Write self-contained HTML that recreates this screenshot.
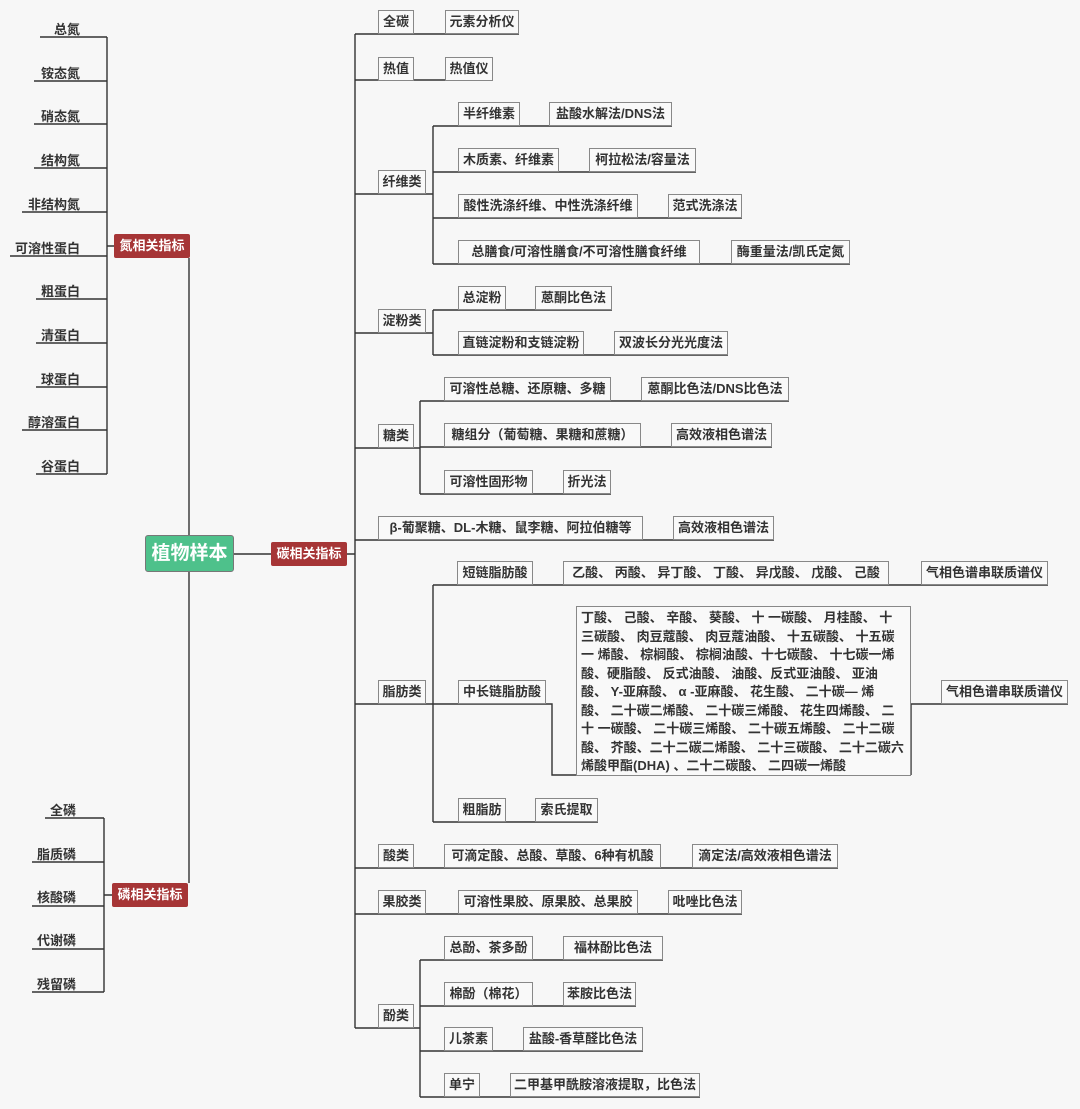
<!DOCTYPE html>
<html><head><meta charset="utf-8">
<style>
body{margin:0;background:#f7f7f7;}
#c{position:relative;width:1080px;height:1109px;overflow:hidden;font-family:"Liberation Sans","Noto Sans CJK SC",sans-serif;}
.b{position:absolute;height:24px;border:1px solid #888;box-sizing:border-box;font-weight:bold;font-size:13px;line-height:22px;text-align:center;background:#f9f9f9;color:#333;white-space:nowrap;}
.t{position:absolute;font-weight:bold;font-size:13px;color:#333;white-space:nowrap;text-align:right;width:80px;left:0;}
.r{position:absolute;height:24px;background:#a63536;color:#fff;font-weight:bold;font-size:13px;line-height:24px;text-align:center;border-radius:2px;}
svg{position:absolute;left:0;top:0}
.big div{height:18.5px;line-height:18.5px;white-space:nowrap}
</style></head><body><div id="c">
<svg width="1080" height="1109" stroke="#333" stroke-width="1.4" fill="none">
<path d="M107 37V474M107 246H114M189 258V535M189 572V883M234 554H271M347 554H355M355 34V1028M104 818V992M104 895H112"/>
<path d="M40 37H107M34 81H107M34 124H107M34 168H107M22 212H107M10 256H107M36 299H107M36 343H107M36 387H107M22 430H107M36 474H107"/>
<path d="M45 818H104M32 862H104M32 906H104M32 949H104M32 992H104"/>
<path d="M355 34H519M355 80H493"/>
<path d="M355 194H433M433 126V264M433 126H672M433 172H696M433 218H742M433 264H850"/>
<path d="M355 333H433M433 310V355M433 310H612M433 355H728"/>
<path d="M355 448H420M420 401V494M420 401H789M420 447H772M420 494H611"/>
<path d="M355 540H774"/>
<path d="M355 704H433M433 585V822M433 585H1048M433 704H552V775H911M911 775V704H941M941 704H1068M433 822H598"/>
<path d="M355 868H838M355 914H742"/>
<path d="M355 1028H420M420 960V1097M420 960H663M420 1006H636M420 1051H643M420 1097H700"/>
</svg>

<div class="t" style="top:19px">总氮</div>
<div class="t" style="top:63px">铵态氮</div>
<div class="t" style="top:106px">硝态氮</div>
<div class="t" style="top:150px">结构氮</div>
<div class="t" style="top:194px">非结构氮</div>
<div class="t" style="top:238px">可溶性蛋白</div>
<div class="t" style="top:281px">粗蛋白</div>
<div class="t" style="top:325px">清蛋白</div>
<div class="t" style="top:369px">球蛋白</div>
<div class="t" style="top:412px">醇溶蛋白</div>
<div class="t" style="top:456px">谷蛋白</div>

<div class="t" style="top:800px;width:76px">全磷</div>
<div class="t" style="top:844px;width:76px">脂质磷</div>
<div class="t" style="top:887px;width:76px">核酸磷</div>
<div class="t" style="top:930px;width:76px">代谢磷</div>
<div class="t" style="top:974px;width:76px">残留磷</div>

<div class="r" style="left:114px;top:234px;width:76px">氮相关指标</div>
<div class="r" style="left:112px;top:883px;width:76px">磷相关指标</div>
<div class="r" style="left:271px;top:542px;width:76px">碳相关指标</div>
<div style="position:absolute;left:145px;top:535px;width:89px;height:37px;box-sizing:border-box;background:#4ec18b;border:1px solid #777;border-radius:3px;color:#fff;font-weight:bold;font-size:19px;line-height:35px;text-align:center;">植物样本</div>

<div class="b" style="left:378px;top:10px;width:36px">全碳</div>
<div class="b" style="left:445px;top:10px;width:74px">元素分析仪</div>
<div class="b" style="left:378px;top:57px;width:36px">热值</div>
<div class="b" style="left:445px;top:57px;width:48px">热值仪</div>

<div class="b" style="left:378px;top:170px;width:48px">纤维类</div>
<div class="b" style="left:458px;top:102px;width:62px">半纤维素</div>
<div class="b" style="left:549px;top:102px;width:123px">盐酸水解法/DNS法</div>
<div class="b" style="left:458px;top:148px;width:101px">木质素、纤维素</div>
<div class="b" style="left:589px;top:148px;width:107px">柯拉松法/容量法</div>
<div class="b" style="left:458px;top:194px;width:180px">酸性洗涤纤维、中性洗涤纤维</div>
<div class="b" style="left:668px;top:194px;width:74px">范式洗涤法</div>
<div class="b" style="left:458px;top:240px;width:242px">总膳食/可溶性膳食/不可溶性膳食纤维</div>
<div class="b" style="left:731px;top:240px;width:119px">酶重量法/凯氏定氮</div>

<div class="b" style="left:378px;top:309px;width:48px">淀粉类</div>
<div class="b" style="left:458px;top:286px;width:48px">总淀粉</div>
<div class="b" style="left:535px;top:286px;width:77px">蒽酮比色法</div>
<div class="b" style="left:458px;top:331px;width:126px">直链淀粉和支链淀粉</div>
<div class="b" style="left:614px;top:331px;width:114px">双波长分光光度法</div>

<div class="b" style="left:378px;top:424px;width:36px">糖类</div>
<div class="b" style="left:444px;top:377px;width:167px">可溶性总糖、还原糖、多糖</div>
<div class="b" style="left:641px;top:377px;width:148px">蒽酮比色法/DNS比色法</div>
<div class="b" style="left:444px;top:423px;width:197px">糖组分（葡萄糖、果糖和蔗糖）</div>
<div class="b" style="left:671px;top:423px;width:101px">高效液相色谱法</div>
<div class="b" style="left:444px;top:470px;width:89px">可溶性固形物</div>
<div class="b" style="left:563px;top:470px;width:48px">折光法</div>

<div class="b" style="left:378px;top:516px;width:265px">β-葡聚糖、DL-木糖、鼠李糖、阿拉伯糖等</div>
<div class="b" style="left:673px;top:516px;width:101px">高效液相色谱法</div>

<div class="b" style="left:378px;top:680px;width:48px">脂肪类</div>
<div class="b" style="left:457px;top:561px;width:76px">短链脂肪酸</div>
<div class="b" style="left:563px;top:561px;width:326px">乙酸、 丙酸、 异丁酸、 丁酸、 异戊酸、 戊酸、 己酸</div>
<div class="b" style="left:921px;top:561px;width:127px">气相色谱串联质谱仪</div>
<div class="b" style="left:458px;top:680px;width:88px">中长链脂肪酸</div>
<div class="b big" style="left:576px;top:606px;width:335px;height:170px;text-align:left;padding:2px 4px;font-size:13px;">
<div>丁酸、 己酸、 辛酸、 葵酸、 十 一碳酸、 月桂酸、 十</div>
<div>三碳酸、 肉豆蔻酸、 肉豆蔻油酸、 十五碳酸、 十五碳</div>
<div>一 烯酸、 棕榈酸、 棕榈油酸、十七碳酸、 十七碳一烯</div>
<div>酸、硬脂酸、 反式油酸、 油酸、反式亚油酸、 亚油</div>
<div>酸、 Y-亚麻酸、 α -亚麻酸、 花生酸、 二十碳— 烯</div>
<div>酸、 二十碳二烯酸、 二十碳三烯酸、 花生四烯酸、 二</div>
<div>十 一碳酸、 二十碳三烯酸、 二十碳五烯酸、 二十二碳</div>
<div>酸、 芥酸、二十二碳二烯酸、 二十三碳酸、 二十二碳六</div>
<div>烯酸甲酯(DHA) 、二十二碳酸、 二四碳一烯酸</div>
</div>
<div class="b" style="left:941px;top:680px;width:127px">气相色谱串联质谱仪</div>
<div class="b" style="left:458px;top:798px;width:48px">粗脂肪</div>
<div class="b" style="left:535px;top:798px;width:63px">索氏提取</div>

<div class="b" style="left:378px;top:844px;width:36px">酸类</div>
<div class="b" style="left:444px;top:844px;width:217px">可滴定酸、总酸、草酸、6种有机酸</div>
<div class="b" style="left:692px;top:844px;width:146px">滴定法/高效液相色谱法</div>
<div class="b" style="left:378px;top:890px;width:48px">果胶类</div>
<div class="b" style="left:458px;top:890px;width:180px">可溶性果胶、原果胶、总果胶</div>
<div class="b" style="left:668px;top:890px;width:74px">吡唑比色法</div>

<div class="b" style="left:378px;top:1004px;width:36px">酚类</div>
<div class="b" style="left:444px;top:936px;width:89px">总酚、茶多酚</div>
<div class="b" style="left:563px;top:936px;width:100px">福林酚比色法</div>
<div class="b" style="left:444px;top:982px;width:89px">棉酚（棉花）</div>
<div class="b" style="left:563px;top:982px;width:73px">苯胺比色法</div>
<div class="b" style="left:444px;top:1027px;width:49px">儿茶素</div>
<div class="b" style="left:523px;top:1027px;width:120px">盐酸-香草醛比色法</div>
<div class="b" style="left:444px;top:1073px;width:36px">单宁</div>
<div class="b" style="left:510px;top:1073px;width:190px">二甲基甲酰胺溶液提取，比色法</div>
</div></body></html>
